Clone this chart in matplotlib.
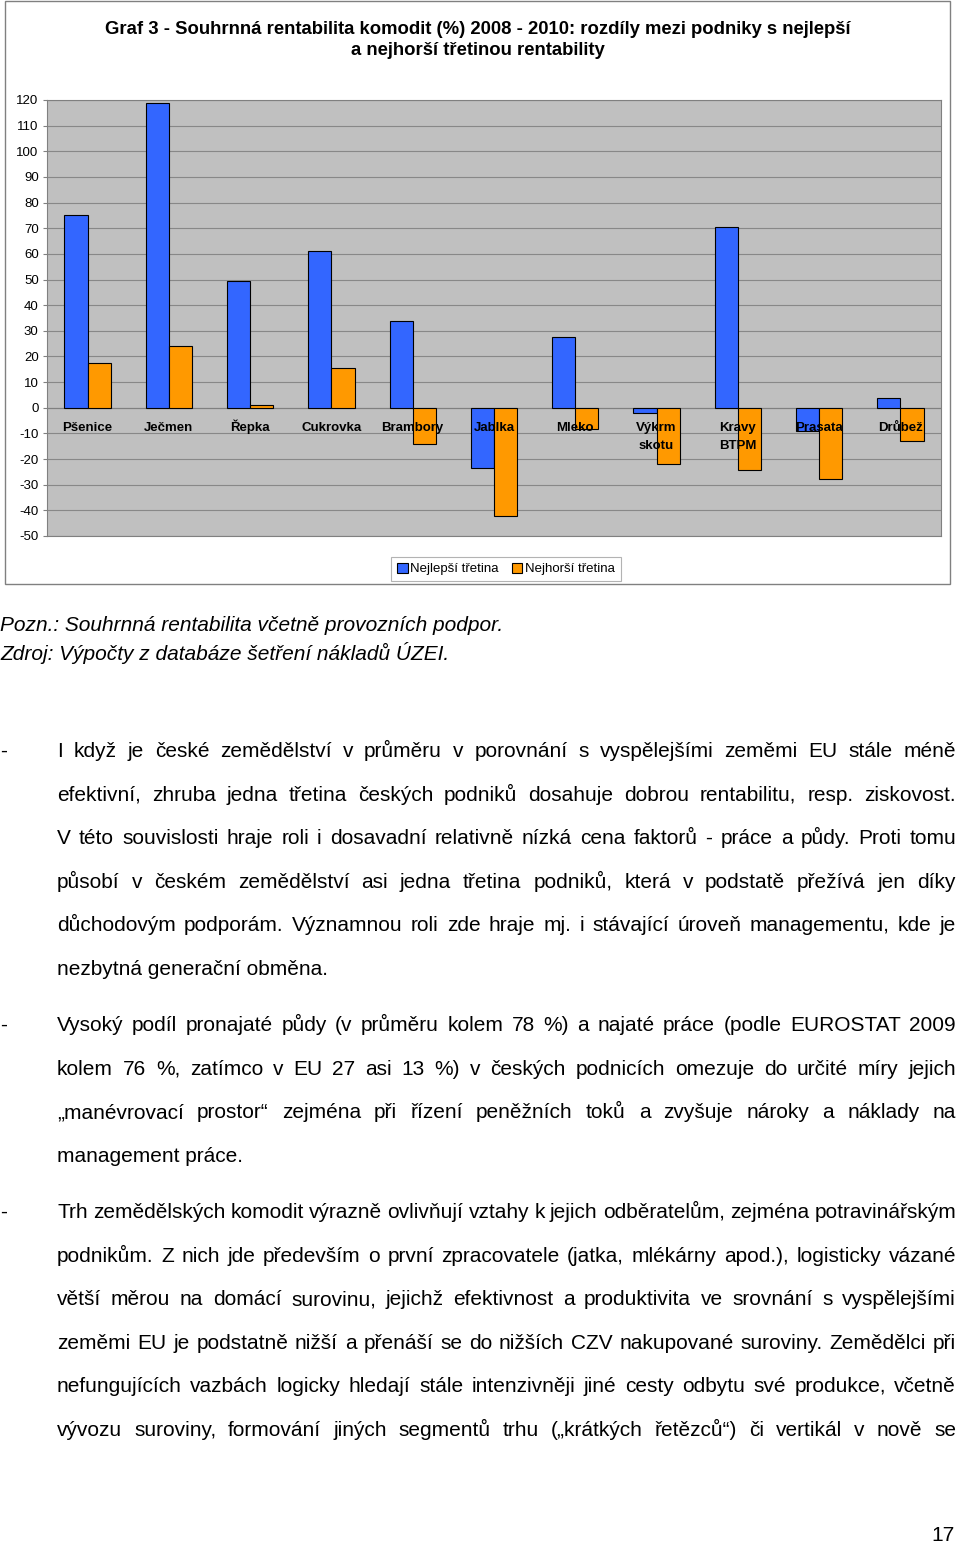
import matplotlib
matplotlib.use("Agg")
import matplotlib.pyplot as plt
import numpy as np
from matplotlib import font_manager
from matplotlib.patches import Rectangle

categories = ["Pšenice", "Ječmen", "Řepka", "Cukrovka", "Brambory", "Jablka",
              "Mleko", "Výkrm\nskotu", "Kravy\nBTPM", "Prasata", "Drůbež"]
best_third = [75, 119, 49.3, 61, 34, -23.3, 27.4, -2, 70.5, -9.2, 4]
worst_third = [17.3, 24.2, 1, 15.5, -14.2, -42.1, -8.3, -22, -24.3, -27.6, -12.9]
series_names = ["Nejlepší třetina", "Nejhorší třetina"]

title = ("Graf 3 - Souhrnná rentabilita komodit (%) 2008 - 2010: rozdíly mezi podniky s nejlepší\n"
         "a nejhorší třetinou rentability")
notes = ["Pozn.: Souhrnná rentabilita včetně provozních podpor.",
         "Zdroj: Výpočty z databáze šetření nákladů ÚZEI."]

paragraphs = [
    ["I když je české zemědělství v průměru v porovnání s vyspělejšími zeměmi EU stále méně",
     "efektivní, zhruba jedna třetina českých podniků dosahuje dobrou rentabilitu, resp. ziskovost.",
     "V této souvislosti hraje roli i dosavadní relativně nízká cena faktorů - práce a půdy. Proti tomu",
     "působí v českém zemědělství asi jedna třetina podniků, která v podstatě přežívá jen díky",
     "důchodovým podporám. Významnou roli zde hraje mj. i stávající úroveň managementu, kde je",
     "nezbytná generační obměna."],
    ["Vysoký podíl pronajaté půdy (v průměru kolem 78 %) a najaté práce (podle EUROSTAT 2009",
     "kolem 76 %, zatímco v EU 27 asi 13 %) v českých podnicích omezuje do určité míry jejich",
     "„manévrovací prostor“ zejména při řízení peněžních toků a zvyšuje nároky a náklady na",
     "management práce."],
    ["Trh zemědělských komodit výrazně ovlivňují vztahy k jejich odběratelům, zejména potravinářským",
     "podnikům. Z nich jde především o první zpracovatele (jatka, mlékárny apod.), logisticky vázané",
     "větší měrou na domácí surovinu, jejichž efektivnost a produktivita ve srovnání s vyspělejšími",
     "zeměmi EU je podstatně nižší a přenáší se do nižších CZV nakupované suroviny. Zemědělci při",
     "nefungujících vazbách logicky hledají stále intenzivněji jiné cesty odbytu své produkce, včetně",
     "vývozu suroviny, formování jiných segmentů trhu („krátkých řetězců“) či vertikál v nově se"],
]
# the last line of a paragraph is left aligned, except the page-cut one
justify_last = [False, False, True]
para_start = [757, 1031, 1218]

names = {f.name for f in font_manager.fontManager.ttflist}
body_font = "Liberation Sans Narrow" if "Liberation Sans Narrow" in names else "Liberation Sans"
arial = "Liberation Sans"
plt.rcParams["axes.unicode_minus"] = False

W, H = 960, 1543
fig = plt.figure(figsize=(W / 100, H / 100), dpi=100)


def fx(px):
    return px / W


def fy(py):
    return 1 - py / H


# chart frame (behind the axes)
fig.patches.append(Rectangle((fx(5), fy(584)), fx(945), 583 / H, transform=fig.transFigure,
                             facecolor="white", edgecolor="#808080", lw=1, zorder=-10))
fig.text(fx(478), fy(40), title, ha="center", va="center", fontsize=13.3, fontweight="bold",
         family=arial, linespacing=1.35)

ax = fig.add_axes([fx(47), fy(536), fx(894), 436 / H])
ax.set_facecolor("#c0c0c0")
x = np.arange(len(categories))
bw = 0.285
ax.bar(x - bw / 2, best_third, bw, color="#3366ff", edgecolor="black", lw=0.8,
       label=series_names[0], zorder=3)
ax.bar(x + bw / 2, worst_third, bw, color="#ff9900", edgecolor="black", lw=0.8,
       label=series_names[1], zorder=3)
ax.set_xlim(-0.5, len(categories) - 0.5)
ax.set_ylim(-50, 120)
ax.set_yticks(np.arange(-50, 121, 10))
ax.yaxis.grid(True, color="#888888", lw=0.8, zorder=0)
ax.axhline(0, color="#808080", lw=0.8, zorder=2)
ax.set_xticks([])
ax.tick_params(axis="y", length=3, labelsize=9.5, color="#808080", pad=3)
for lab in ax.get_yticklabels():
    lab.set_family(arial)
for s in ax.spines.values():
    s.set_color("#808080")
# category names sit just under the zero line, one text per row
for i, c in enumerate(categories):
    for k, part in enumerate(c.split("\n")):
        ax.text(i, -9.2 - 6.7 * k, part, ha="center", va="baseline", fontsize=9.5,
                fontweight="bold", family=arial, zorder=4)

leg = fig.legend(loc="center", bbox_to_anchor=(fx(506), fy(569)), ncol=2, frameon=True,
                 fancybox=False, edgecolor="#a0a0a0", handlelength=0.8,
                 handleheight=0.8, handletextpad=0.2, columnspacing=1.0, borderpad=0.45,
                 prop={"family": arial, "size": 9.5})
leg.get_frame().set_linewidth(0.8)

# notes under the chart
for k, line in enumerate(notes):
    fig.text(fx(0), fy(631 + 29 * k), line, ha="left", va="baseline", fontsize=15,
             style="italic", family=body_font)

# body text, justified between x=57 and x=956
fig.canvas.draw()
renderer = fig.canvas.get_renderer()
left, right = 57, 956
line_h = 43.6
for p, lines in enumerate(paragraphs):
    base = para_start[p]
    fig.text(fx(0), fy(base), "-", ha="left", va="baseline", fontsize=15, family=body_font)
    for j, line in enumerate(lines):
        yb = fy(base + line_h * j)
        last = j == len(lines) - 1
        if last and not justify_last[p]:
            fig.text(fx(left), yb, line, ha="left", va="baseline", fontsize=15,
                     family=body_font)
            continue
        words = line.split(" ")
        objs = [fig.text(0, yb, w, ha="left", va="baseline", fontsize=15,
                         family=body_font) for w in words]
        widths = [o.get_window_extent(renderer).width for o in objs]
        gap = (right - left - sum(widths)) / max(len(words) - 1, 1)
        pos = left
        for o, wdt in zip(objs, widths):
            o.set_x(fx(pos))
            pos += wdt + gap

fig.text(fx(955), fy(1541), "17", ha="right", va="baseline", fontsize=15, family=arial)

fig.savefig("out.png", dpi=100)
